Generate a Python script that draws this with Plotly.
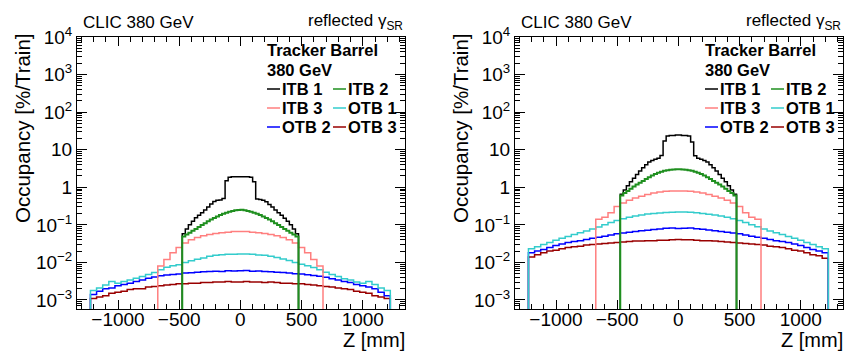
import plotly.graph_objects as go

# ---------------- data (bin centres in mm, occupancy in %/train) ----------------
W_FINE = 25
W_COARSE = 50
z_itb12 = [-462.5, -437.5, -412.5, -387.5, -362.5, -337.5, -312.5, -287.5, -262.5, -237.5, -212.5, -187.5,
           -162.5, -137.5, -112.5, -87.5, -62.5, -37.5, -12.5, 12.5, 37.5, 62.5, 87.5, 112.5, 137.5, 162.5,
           187.5, 212.5, 237.5, 262.5, 287.5, 312.5, 337.5, 362.5, 387.5, 412.5, 437.5, 462.5]  # ITB 1 / ITB 2
z_itb3 = list(range(-650, 651, 50))      # ITB 3 bins
z_otb = list(range(-1200, 1201, 50))     # OTB bins

series_names = ["ITB 1", "ITB 2", "ITB 3", "OTB 1", "OTB 2", "OTB 3"]
series_colors = ["#000000", "#1f8f1f", "#ff7f7f", "#33cccc", "#0000ff", "#990000"]

# left panel
L_ITB1 = [0.058, 0.078, 0.100, 0.125, 0.155, 0.180, 0.210, 0.250, 0.300, 0.360, 0.420, 0.450, 0.460, 0.500,
          1.50, 1.85, 1.90, 1.90, 1.92, 1.92, 1.90, 1.90, 1.85, 1.40, 0.49, 0.47, 0.45, 0.41, 0.35, 0.30, 0.25,
          0.21, 0.18, 0.15, 0.125, 0.100, 0.077, 0.058]
L_ITB2 = [0.049, 0.055, 0.062, 0.070, 0.078, 0.088, 0.099, 0.110, 0.124, 0.138, 0.152, 0.168, 0.182, 0.196,
          0.210, 0.222, 0.234, 0.244, 0.250, 0.252, 0.245, 0.235, 0.223, 0.211, 0.197, 0.183, 0.168, 0.153,
          0.139, 0.124, 0.111, 0.099, 0.088, 0.078, 0.070, 0.062, 0.055, 0.049]
L_ITB3 = [0.008, 0.012, 0.018, 0.025, 0.033, 0.040, 0.046, 0.051, 0.055, 0.059, 0.062, 0.064, 0.066, 0.067,
          0.066, 0.064, 0.062, 0.059, 0.055, 0.051, 0.046, 0.040, 0.033, 0.025, 0.018, 0.012, 0.008]
L_OTB1 = [0.0018, 0.0021, 0.0025, 0.0031, 0.0028, 0.0031, 0.0034, 0.0038, 0.0042, 0.0048, 0.0054, 0.0064, 0.0074,
          0.0082, 0.0087, 0.0100, 0.0110, 0.0122, 0.0132, 0.0145, 0.0155, 0.0160, 0.0164, 0.0166, 0.0168, 0.0167,
          0.0164, 0.0158, 0.0155, 0.0147, 0.0135, 0.0124, 0.0112, 0.0100, 0.0090, 0.0081, 0.0073, 0.0064, 0.0055,
          0.0048, 0.0042, 0.0037, 0.0034, 0.0030, 0.0028, 0.0031, 0.0026, 0.0021, 0.0018]
L_OTB2 = [0.0014, 0.0017, 0.0020, 0.0021, 0.0024, 0.0026, 0.0028, 0.0031, 0.0034, 0.0038, 0.0041, 0.0044, 0.0046,
          0.0048, 0.0049, 0.0052, 0.0053, 0.0055, 0.0056, 0.0057, 0.0058, 0.0057, 0.0060, 0.0059, 0.0060, 0.0061,
          0.0058, 0.0059, 0.0057, 0.0056, 0.0055, 0.0054, 0.0052, 0.0050, 0.0049, 0.0047, 0.0045, 0.0043, 0.0040,
          0.0037, 0.0034, 0.0031, 0.0029, 0.0026, 0.0024, 0.0022, 0.0020, 0.0016, 0.0013]
L_OTB3 = [0.0011, 0.0012, 0.0013, 0.0015, 0.0016, 0.0017, 0.0019, 0.0020, 0.0020, 0.0022, 0.0023, 0.0024, 0.0025,
          0.0026, 0.0027, 0.0027, 0.0028, 0.0028, 0.0029, 0.0029, 0.0030, 0.0030, 0.0031, 0.0030, 0.0030, 0.0031,
          0.0030, 0.0030, 0.0029, 0.0030, 0.0029, 0.0028, 0.0028, 0.0027, 0.0027, 0.0026, 0.0025, 0.0024, 0.0023,
          0.0022, 0.0021, 0.0020, 0.0019, 0.0017, 0.0016, 0.0015, 0.0013, 0.0012, 0.0011]

# right panel
R_ITB1 = [0.65, 0.85, 1.10, 1.40, 1.75, 2.20, 2.70, 3.30, 4.00, 4.70, 5.20, 5.60, 5.90, 7.00, 17.0, 23.0, 24.0,
          24.0, 24.5, 24.5, 24.0, 24.0, 23.0, 16.0, 6.90, 5.90, 5.60, 5.20, 4.70, 4.00, 3.30, 2.70, 2.20, 1.75,
          1.40, 1.10, 0.85, 0.65]
R_ITB2 = [0.60, 0.70, 0.80, 0.92, 1.05, 1.18, 1.32, 1.48, 1.65, 1.85, 2.05, 2.25, 2.45, 2.60, 2.75, 2.85, 2.93,
          2.98, 3.00, 3.00, 2.97, 2.92, 2.85, 2.75, 2.60, 2.45, 2.25, 2.05, 1.85, 1.65, 1.48, 1.32, 1.18, 1.05,
          0.92, 0.80, 0.70, 0.60]
R_ITB3 = [0.14, 0.16, 0.21, 0.31, 0.38, 0.45, 0.52, 0.58, 0.64, 0.70, 0.75, 0.78, 0.80, 0.80,
          0.80, 0.78, 0.75, 0.70, 0.64, 0.58, 0.52, 0.45, 0.38, 0.31, 0.21, 0.16, 0.14]
R_OTB1 = [0.023, 0.026, 0.030, 0.034, 0.039, 0.044, 0.049, 0.055, 0.062, 0.069, 0.078, 0.088, 0.100, 0.115, 0.130,
          0.145, 0.160, 0.172, 0.183, 0.193, 0.200, 0.208, 0.214, 0.218, 0.220, 0.219, 0.215, 0.209, 0.201, 0.192,
          0.182, 0.171, 0.159, 0.145, 0.131, 0.116, 0.101, 0.089, 0.078, 0.069, 0.062, 0.055, 0.049, 0.044, 0.039,
          0.034, 0.030, 0.026, 0.023]
R_OTB2 = [0.018, 0.020, 0.022, 0.025, 0.028, 0.031, 0.034, 0.036, 0.038, 0.041, 0.044, 0.047, 0.050, 0.054, 0.058,
          0.061, 0.064, 0.067, 0.070, 0.072, 0.075, 0.078, 0.081, 0.082, 0.080, 0.081, 0.083, 0.079, 0.076, 0.073,
          0.070, 0.067, 0.064, 0.061, 0.058, 0.054, 0.050, 0.047, 0.044, 0.041, 0.038, 0.036, 0.034, 0.031, 0.028,
          0.025, 0.022, 0.020, 0.018]
R_OTB3 = [0.014, 0.016, 0.018, 0.020, 0.021, 0.023, 0.025, 0.026, 0.027, 0.029, 0.030, 0.031, 0.032, 0.033, 0.034,
          0.035, 0.036, 0.037, 0.037, 0.038, 0.038, 0.039, 0.039, 0.040, 0.041, 0.040, 0.040, 0.039, 0.038, 0.038,
          0.037, 0.036, 0.035, 0.034, 0.033, 0.032, 0.031, 0.030, 0.029, 0.027, 0.026, 0.025, 0.023, 0.021, 0.020,
          0.018, 0.016, 0.015, 0.013]

y_tickvals = [1e-3, 1e-2, 1e-1, 1, 10, 1e2, 1e3, 1e4]
y_ticktext = ["10<sup>\u22123</sup>", "10<sup>\u22122</sup>", "10<sup>\u22121</sup>", "1", "10",
              "10<sup>2</sup>", "10<sup>3</sup>", "10<sup>4</sup>"]

# ---------------- figure ----------------
W, H = 844, 352
FONT = "Liberation Sans"
FLOOR = 1e-5


def px_x(p):
    return p / W


def px_y(p):
    return 1 - p / H


def step_xy(centers, values, width):
    edges = [c - width / 2 for c in centers] + [centers[-1] + width / 2]
    xs = [edges[0]] + edges + [edges[-1]]
    ys = [FLOOR] + list(values) + [values[-1], FLOOR]
    return xs, ys


fig = go.Figure()

panels = [
    dict(ax="", dx=0, data={"ITB 1": (z_itb12, L_ITB1, W_FINE), "ITB 2": (z_itb12, L_ITB2, W_FINE),
                            "ITB 3": (z_itb3, L_ITB3, W_COARSE), "OTB 1": (z_otb, L_OTB1, W_COARSE),
                            "OTB 2": (z_otb, L_OTB2, W_COARSE), "OTB 3": (z_otb, L_OTB3, W_COARSE)}),
    dict(ax="2", dx=438, data={"ITB 1": (z_itb12, R_ITB1, W_FINE), "ITB 2": (z_itb12, R_ITB2, W_FINE),
                               "ITB 3": (z_itb3, R_ITB3, W_COARSE), "OTB 1": (z_otb, R_OTB1, W_COARSE),
                               "OTB 2": (z_otb, R_OTB2, W_COARSE), "OTB 3": (z_otb, R_OTB3, W_COARSE)}),
]

draw_order = ["OTB 3", "OTB 2", "OTB 1", "ITB 3", "ITB 1", "ITB 2"]
color_of = dict(zip(series_names, series_colors))

minor_y = [m * 10 ** e for e in range(-4, 4) for m in range(2, 10)]

annotations = []
shapes = []
for p in panels:
    for name in draw_order:
        cs, vs, bw = p["data"][name]
        xs, ys = step_xy(cs, vs, bw)
        fig.add_trace(go.Scatter(x=xs, y=ys, mode="lines", line_shape="hv",
                                 line=dict(color=color_of[name], width=2 if name == "ITB 2" else 1.5),
                                 name=name, showlegend=False,
                                 xaxis="x" + p["ax"], yaxis="y" + p["ax"]))
    dx = p["dx"]
    x0, x1 = 77 + dx, 405 + dx
    axis_common = dict(showline=True, linecolor="black", linewidth=1, mirror="allticks",
                       ticks="inside", tickcolor="black", tickwidth=1, showgrid=False, zeroline=False,
                       tickfont=dict(family=FONT, size=19, color="black"), automargin=False)
    fig.layout["xaxis" + p["ax"]] = dict(
        domain=[px_x(x0), px_x(x1)], range=[-1335, 1345], anchor="y" + p["ax"],
        dtick=500, tick0=0, ticklen=9, ticklabelstandoff=-7,
        minor=dict(ticks="inside", ticklen=5, dtick=100, tick0=0, tickcolor="black", showgrid=False),
        **axis_common)
    fig.layout["yaxis" + p["ax"]] = dict(
        domain=[px_y(309), px_y(37)], type="log", range=[-3.24, 4.0], anchor="x" + p["ax"],
        tickmode="array", tickvals=y_tickvals, ticktext=y_ticktext, ticklen=10,
        minor=dict(ticks="inside", ticklen=5, tickmode="array", tickvals=minor_y, tickcolor="black", showgrid=False),
        **axis_common)

    # texts
    annotations += [
        dict(text="CLIC 380 GeV", x=px_x(82 + dx), y=px_y(23), xanchor="left", yanchor="middle",
             font=dict(family=FONT, size=17, color="black")),
        dict(text="reflected \u03b3<sub>SR</sub>", x=px_x(404 + dx), y=px_y(22), xanchor="right", yanchor="middle",
             font=dict(family=FONT, size=17, color="black")),
        dict(text="Occupancy [%/Train]", textangle=-90, x=px_x(22 + dx), y=px_y(32), xanchor="center",
             yanchor="top", font=dict(family=FONT, size=20.5, color="black")),
        dict(text="Z [mm]", x=px_x(406 + dx), y=px_y(339.5), xanchor="right", yanchor="middle",
             font=dict(family=FONT, size=20, color="black")),
        dict(text="<b>Tracker Barrel</b>", x=px_x(266 + dx), y=px_y(50), xanchor="left", yanchor="middle",
             font=dict(family=FONT, size=16.5, color="black")),
        dict(text="<b>380 GeV</b>", x=px_x(266 + dx), y=px_y(70), xanchor="left", yanchor="middle",
             font=dict(family=FONT, size=16.5, color="black")),
    ]
    rows_y = [89, 108, 127]
    cols_x = [267, 333]
    for i, name in enumerate(series_names):
        r, c = divmod(i, 2)
        lx = cols_x[c] + dx
        ly = rows_y[r]
        shapes.append(dict(type="line", xref="paper", yref="paper", x0=px_x(lx), x1=px_x(lx + 13),
                           y0=px_y(ly), y1=px_y(ly), line=dict(color=color_of[name], width=1.5)))
        annotations.append(dict(text="<b>" + name + "</b>", x=px_x(lx + 14), y=px_y(ly), xanchor="left",
                                yanchor="middle", font=dict(family=FONT, size=16.5, color="black")))

for a in annotations:
    a.update(xref="paper", yref="paper", showarrow=False, borderpad=0)

fig.update_layout(width=W, height=H, margin=dict(l=0, r=0, t=0, b=0), template="none",
                  paper_bgcolor="white", plot_bgcolor="white", showlegend=False,
                  annotations=annotations, shapes=shapes)

fig.write_html("out.html")
